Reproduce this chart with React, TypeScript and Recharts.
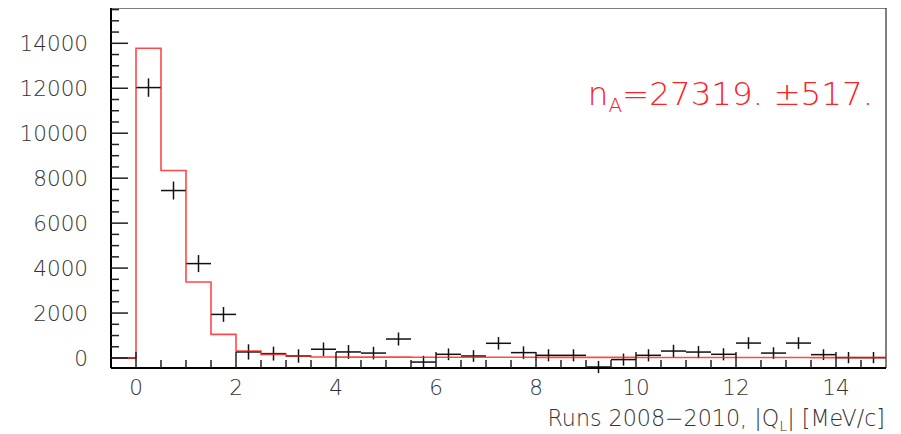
import React from 'react';
import { ComposedChart, Line, Scatter, ErrorBar, XAxis, YAxis, ReferenceArea } from 'recharts';

// fit histogram: left edge of each 0.5 bin and its content
const FIT_EDGES = [-0.5, 0, 0.5, 1, 1.5, 2, 2.5, 3, 3.5, 4, 4.5, 5, 5.5, 6, 6.5, 7, 7.5, 8, 8.5, 9, 9.5, 10, 10.5, 11, 11.5, 12, 12.5, 13, 13.5, 14, 14.5, 15];
const FIT_COUNTS = [0, 13780, 8340, 3380, 1050, 311, 164, 90, 48, 42, 40, 38, 37, 36, 34, 33, 32, 30, 29, 28, 27, 26, 25, 24, 23, 22, 21, 20, 19, 18, 17, 17];

// measured points (bin centres)
const DATA_X = [-0.25, 0.25, 0.75, 1.25, 1.75, 2.25, 2.75, 3.25, 3.75, 4.25, 4.75, 5.25, 5.75, 6.25, 6.75, 7.25, 7.75, 8.25, 8.75, 9.25, 9.75, 10.25, 10.75, 11.25, 11.75, 12.25, 12.75, 13.25, 13.75, 14.25, 14.75];
const DATA_Y = [0, 12030, 7450, 4200, 1940, 270, 195, 90, 390, 270, 220, 845, -180, 165, 90, 655, 240, 120, 120, -400, -70, 120, 310, 265, 165, 665, 220, 665, 150, 18, 18];
const DATA_ERR = [0, 410, 400, 380, 330, 340, 310, 300, 300, 310, 280, 290, 280, 260, 260, 280, 280, 270, 270, 270, 270, 270, 280, 270, 270, 260, 260, 260, 240, 250, 250];

const X_TICKS = [0, 0.5, 1, 1.5, 2, 2.5, 3, 3.5, 4, 4.5, 5, 5.5, 6, 6.5, 7, 7.5, 8, 8.5, 9, 9.5, 10, 10.5, 11, 11.5, 12, 12.5, 13, 13.5, 14, 14.5];
const X_LABELS = [0, 2, 4, 6, 8, 10, 12, 14];
const Y_TICKS = [0, 500, 1000, 1500, 2000, 2500, 3000, 3500, 4000, 4500, 5000, 5500, 6000, 6500, 7000, 7500, 8000, 8500, 9000, 9500, 10000, 10500, 11000, 11500, 12000, 12500, 13000, 13500, 14000, 14500, 15000, 15500];
const Y_LABELS = [0, 2000, 4000, 6000, 8000, 10000, 12000, 14000];

const X_DOMAIN: [number, number] = [-0.5, 15];
const Y_DOMAIN: [number, number] = [-444, 15570];

const fitData = FIT_EDGES.map((x, i) => ({ x, h: FIT_COUNTS[i] }));
const points = DATA_X.map((x, i) => ({ x, y: DATA_Y[i], ex: 0.25, ey: DATA_ERR[i] }));

const FONT = '"DejaVu Sans", sans-serif';
const INK = '#222';

const XTick = (props: any) => {
  const { x, y, payload } = props;
  const major = X_LABELS.includes(payload.value);
  return (
    <g>
      <line x1={x} y1={y} x2={x} y2={y - (major ? 16 : 8)} stroke={INK} strokeWidth={1.5} />
      {major && (
        <text x={x} y={y + 27} textAnchor="middle" fontFamily={FONT} fontWeight={200} fontSize={21.5} fill="#333">
          {payload.value}
        </text>
      )}
    </g>
  );
};

const YTick = (props: any) => {
  const { x, y, payload } = props;
  const major = Y_LABELS.includes(payload.value);
  return (
    <g>
      <line x1={x} y1={y} x2={x + (major ? 17 : 8)} y2={y} stroke={INK} strokeWidth={1.5} />
      {major && (
        <text x={x - 23} y={y + 8} textAnchor="end" fontFamily={FONT} fontWeight={200} fontSize={21.5} fill="#333">
          {payload.value}
        </text>
      )}
    </g>
  );
};

export default function App() {
  return (
    <div style={{ position: 'relative', width: 893, height: 426 }}>
      <ComposedChart width={893} height={426} margin={{ top: 0, right: 15, left: 0, bottom: 0 }}>
        <XAxis
          type="number"
          dataKey="x"
          domain={X_DOMAIN}
          ticks={X_TICKS}
          interval={0}
          allowDataOverflow
          height={66}
          tickSize={0}
          tickMargin={0}
          tick={<XTick />}
          axisLine={{ stroke: '#000', strokeWidth: 2 }}
        />
        <YAxis
          type="number"
          domain={Y_DOMAIN}
          ticks={Y_TICKS}
          interval={0}
          allowDataOverflow
          width={103}
          tickSize={0}
          tickMargin={0}
          tick={<YTick />}
          axisLine={{ stroke: '#000', strokeWidth: 2 }}
        />
        <ReferenceArea x1={X_DOMAIN[0]} x2={X_DOMAIN[1]} y1={Y_DOMAIN[0]} y2={Y_DOMAIN[1]} fill="none" stroke="#000" strokeWidth={1} ifOverflow="visible" />
        <Scatter data={points} dataKey="y" shape={() => <g />} isAnimationActive={false}>
          <ErrorBar dataKey="ex" direction="x" width={0} stroke="#111" strokeWidth={1.5} isAnimationActive={false} />
          <ErrorBar dataKey="ey" direction="y" width={0} stroke="#111" strokeWidth={1.5} isAnimationActive={false} />
        </Scatter>
        <Line
          data={fitData}
          dataKey="h"
          type="stepAfter"
          stroke="#ff1a1a"
          strokeOpacity={0.8}
          strokeWidth={1.6}
          dot={false}
          activeDot={false}
          isAnimationActive={false}
        />
      </ComposedChart>
      <svg width={893} height={426} style={{ position: 'absolute', left: 0, top: 0, pointerEvents: 'none' }}>
        <text x={865} y={97} textAnchor="end" fontFamily={FONT} fontWeight={200} fontSize={32.5} fill="#ff2020">
          n<tspan fontSize={20} dy={7}>A</tspan>
          <tspan dy={-7}>=27319. ±517.</tspan>
        </text>
        <text x={877} y={418} textAnchor="end" fontFamily={FONT} fontWeight={200} fontSize={22.2} fill="#333">
          Runs 2008−2010, |Q<tspan fontSize={14.5} dy={5}>L</tspan>
          <tspan dy={-5}>| [MeV/c]</tspan>
        </text>
      </svg>
    </div>
  );
}
